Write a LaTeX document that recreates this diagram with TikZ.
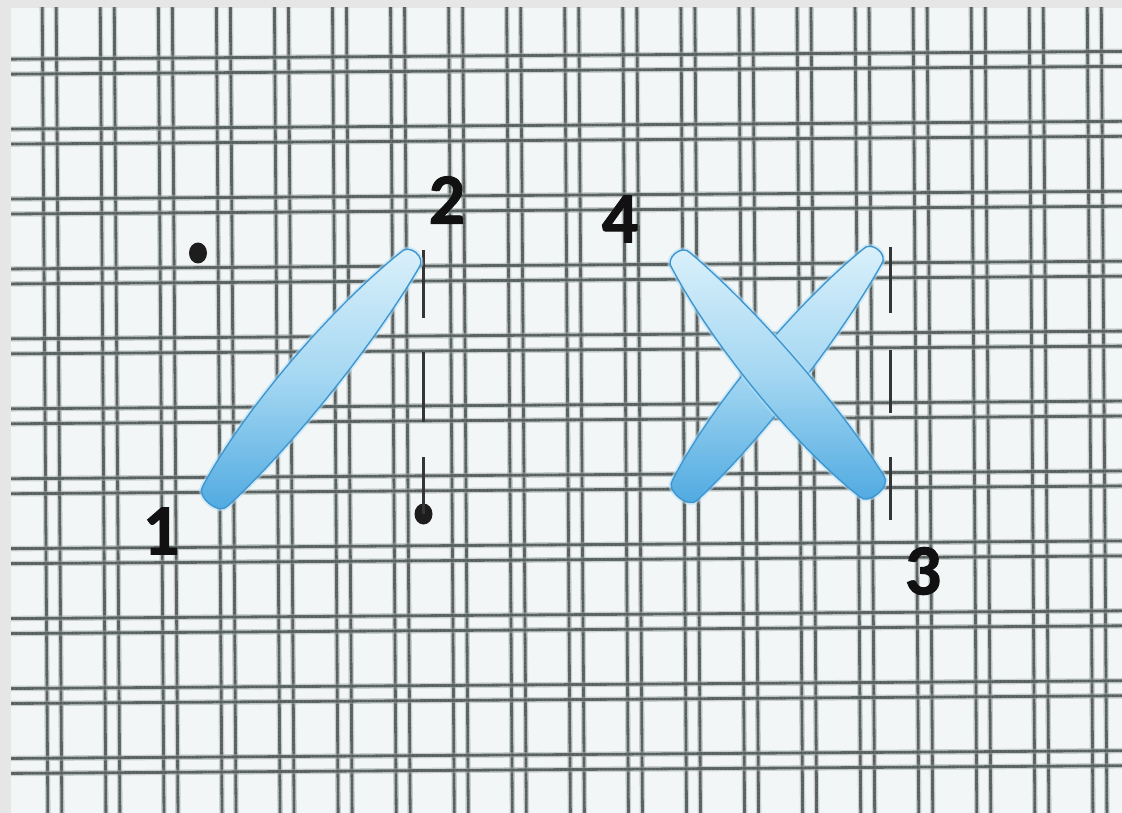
\documentclass[tikz,border=0pt]{standalone}
\usepackage{fontspec}
\setmainfont{Carlito}[BoldFeatures={FakeBold=1.3}]
\usetikzlibrary{calc,shapes.geometric}
\definecolor{paper}{HTML}{F3F6F6}
\definecolor{framec}{HTML}{E6E6E6}
\definecolor{gridc}{HTML}{606868}
\definecolor{gridsoft}{HTML}{A0A8A8}
\definecolor{gridtex}{HTML}{3A4141}
\definecolor{inkc}{HTML}{111111}
\definecolor{threadlight}{HTML}{DCF1FB}
\definecolor{threadmid}{HTML}{A4D7F2}
\definecolor{threaddark}{HTML}{4CA8E0}
\definecolor{threadedge}{HTML}{3F97D2}
\definecolor{threadglow}{HTML}{B8E1F6}
\tikzset{
  x=1pt, y=-1pt,
  gridhalo/.style={draw=gridsoft, line width=5.5pt, opacity=.5},
  gridline/.style={draw=gridc, line width=2.8pt},
  gridweave/.style={draw=gridtex, line width=1.4pt, dash pattern=on 1.5pt off 2.5pt, opacity=.45},
  stitchglow/.style={draw=threadglow, line width=5pt, opacity=.55},
  stitchbody/.style={top color=threadlight, bottom color=threaddark, middle color=threadmid, draw=threadedge, line width=1.4pt},
  holemark/.style={ellipse, fill=inkc!95, inner sep=0pt, minimum width=18pt, minimum height=21pt},
  guide/.style={draw=inkc!85, line width=3pt},
  numlabel/.style={inner sep=0pt, text=inkc, font=\fontsize{72}{72}\selectfont\bfseries},
}
\newcommand\stitchoutline[2]{($(#1)!0.04!(#2)!16pt!90:(#2)$) .. controls ($(#1)!0.3!(#2)!33pt!90:(#2)$) and ($(#1)!0.7!(#2)!30pt!90:(#2)$) .. ($(#1)!0.96!(#2)!12pt!90:(#2)$) .. controls ($(#2)!12pt!-90:(#1)$) and ($(#2)!12pt!90:(#1)$) .. ($(#1)!0.96!(#2)!12pt!-90:(#2)$) .. controls ($(#1)!0.7!(#2)!26pt!-90:(#2)$) and ($(#1)!0.3!(#2)!28pt!-90:(#2)$) .. ($(#1)!0.04!(#2)!16pt!-90:(#2)$) .. controls ($(#1)!16pt!-90:(#2)$) and ($(#1)!16pt!90:(#2)$) .. cycle}
\begin{document}
\begin{tikzpicture}
\useasboundingbox (0,0) rectangle (1122,813);
\fill[framec] (0,0) rectangle (1122,813);
\fill[paper] (11,8) rectangle (1122,813);
% grid of the fabric
\begin{scope}
  \clip (11,8) rectangle (1122,813);
  \begin{scope}[rotate around={0.4:(561,406)}]
    \foreach \k in {-1,...,19} {
      \pgfmathsetmacro\xa{45+58.06*\k}
      \foreach \d in {0,14} {
        \draw[gridhalo] (\xa+\d,-30) -- (\xa+\d,850);
        \draw[gridline] (\xa+\d,-30) -- (\xa+\d,850);
        \draw[gridweave] (\xa+\d,-30) -- (\xa+\d,850);
      }
    }
    \foreach \k in {-1,...,11} {
      \pgfmathsetmacro\ya{55.3+69.93*\k}
      \foreach \d in {0,15} {
        \draw[gridhalo] (-30,\ya+\d) -- (1160,\ya+\d);
        \draw[gridline] (-30,\ya+\d) -- (1160,\ya+\d);
        \draw[gridweave] (-30,\ya+\d) -- (1160,\ya+\d);
      }
    }
  \end{scope}
\end{scope}
% stitch end points
\coordinate (s1a) at (207,506);
\coordinate (s1b) at (418,250);
\coordinate (s2a) at (677,500);
\coordinate (s2b) at (880,247);
\coordinate (s3a) at (880,496);
\coordinate (s3b) at (673,251);
% guide lines and holes
\node[holemark] (h1) at (198,253) {};
\node[holemark] (h2) at (423.5,514) {};
\coordinate (g1) at (423.5,250);
\draw[guide, dash pattern=on 68pt off 34pt on 70pt off 35pt on 70pt] (g1) -- (h2.center);
\coordinate (g2) at (890,247);
\coordinate (g2e) at (890,520);
\draw[guide, dash pattern=on 66pt off 37pt on 63pt off 44pt on 70pt] (g2) -- (g2e);
% stitches
\path[stitchglow] \stitchoutline{s1a}{s1b};
\path[stitchbody] \stitchoutline{s1a}{s1b};
\path[stitchglow] \stitchoutline{s2a}{s2b};
\path[stitchbody] \stitchoutline{s2a}{s2b};
\path[stitchglow] \stitchoutline{s3a}{s3b};
\path[stitchbody] \stitchoutline{s3a}{s3b};
% numbers
\node[numlabel] (n1) at (161,531) {1};
\node[numlabel] (n2) at (447,200) {2};
\node[numlabel] (n4) at (620,219) {4};
\node[numlabel] (n3) at (923,571) {3};
\end{tikzpicture}
\end{document}
